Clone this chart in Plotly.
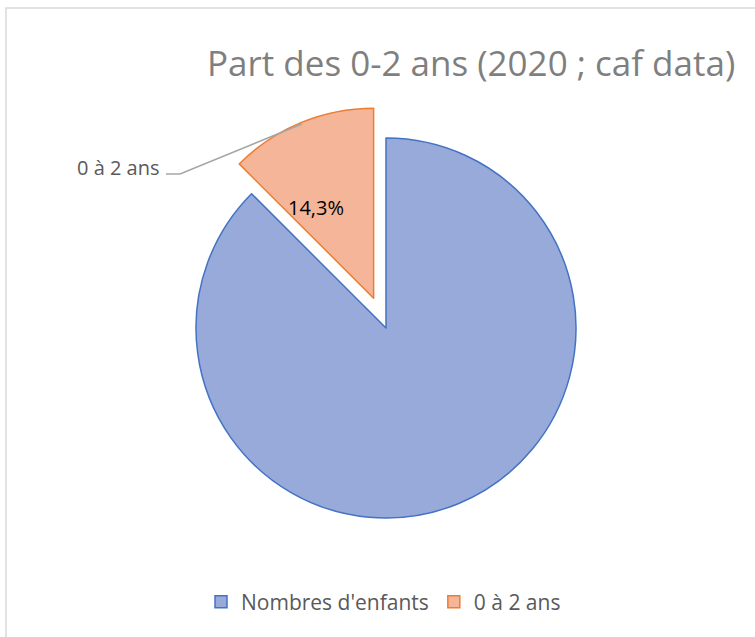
import plotly.graph_objects as go

W, H = 755, 637

categories = ["Nombres d'enfants", "0 à 2 ans"]
values = [100.0, 14.3]
fill_colors = ["#98AADA", "#F5B598"]
line_colors = ["#4472C4", "#ED7D31"]
pulls = [0, 0.17]
title_text = "Part des 0-2 ans (2020 ; caf data)"

FONT = "Open Sans, Noto Sans, sans-serif"

def px(x):
    return x / W

def py(y):
    return 1 - y / H

# pie box: centre (386, 328); radius 190 with pull
cx, cy = 386, 328
side = 2 * 190 * (1 + max(pulls))

# data label: share of "0 à 2 ans" relative to "Nombres d'enfants"
ratio = values[1] / values[0] * 100
pct_label = f"{ratio:.1f}".replace(".", ",") + "%"

fig = go.Figure()
fig.add_trace(go.Pie(
    labels=categories,
    values=values,
    sort=False,
    direction="clockwise",
    rotation=0,
    pull=pulls,
    marker=dict(colors=fill_colors, line=dict(color=line_colors, width=1.5)),
    textinfo="none",
    hoverinfo="label+value",
    domain=dict(x=[px(cx - side / 2), px(cx + side / 2)],
                y=[py(cy + side / 2), py(cy - side / 2)]),
))

fig.update_layout(
    width=W, height=H,
    margin=dict(l=0, r=0, t=0, b=0),
    paper_bgcolor="white",
    separators=", ",
    showlegend=True,
    legend=dict(orientation="h", x=px(201), y=py(602), xanchor="left", yanchor="middle",
                font=dict(family=FONT, size=21, color="#595959"),
                itemwidth=30, tracegroupgap=0),
    annotations=[
        dict(text=title_text, x=px(471), y=py(63), xref="paper", yref="paper",
             xanchor="center", yanchor="middle", showarrow=False,
             font=dict(family=FONT, size=35, color="#7F7F7F")),
        dict(text=categories[1], x=px(161), y=py(167), xref="paper", yref="paper",
             xanchor="right", yanchor="middle", showarrow=False,
             font=dict(family=FONT, size=20, color="#595959")),
        dict(text=pct_label, x=px(316), y=py(208), xref="paper", yref="paper",
             xanchor="center", yanchor="middle", showarrow=False,
             font=dict(family=FONT, size=20, color="#000000")),
    ],
    shapes=[
        dict(type="rect", xref="paper", yref="paper", x0=px(6), y0=py(8), x1=px(770), y1=py(650),
             line=dict(color="#D9D9D9", width=1.5), fillcolor="rgba(0,0,0,0)"),
        dict(type="path", xref="paper", yref="paper",
             path=f"M {px(166)} {py(174)} L {px(180)} {py(174)} L {px(302)} {py(124)}",
             line=dict(color="#A6A6A6", width=1.5)),
    ],
)

fig.write_html("out.html", config={"displayModeBar": False},
               post_script="document.body.style.margin='0';document.body.style.overflow='hidden';")
